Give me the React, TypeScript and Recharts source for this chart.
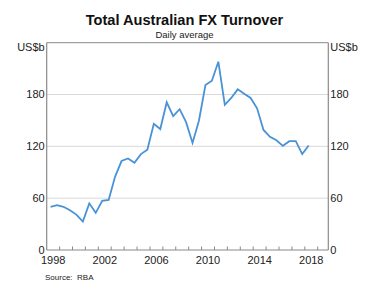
import React from 'react';
import { LineChart, Line, XAxis, YAxis, CartesianGrid } from 'recharts';

const firstPeriod = 1998.3;
const turnover = [
  50, 52, 50, 46, 41, 33, 54, 43, 57, 58,
  85, 103, 106, 101, 111, 116, 146, 140, 171, 155,
  163, 148, 124, 150, 191, 196, 218, 168, 176, 186,
  181, 176, 164, 139, 131, 127, 120.6, 126, 126, 111,
  121,
];
const yearTicks = [1999, 2000, 2001, 2002, 2003, 2004, 2005, 2006, 2007, 2008, 2009, 2010, 2011, 2012, 2013, 2014, 2015, 2016, 2017, 2018, 2019];
const yearLabels = [1998.5, 2002.5, 2006.5, 2010.5, 2014.5, 2018.5];
const valueTicks = [0, 60, 120, 180, 240];
const unitLabel = 'US$b';

const data = turnover.map((v, i) => ({ t: firstPeriod + i * 0.5, v }));
const xTicks = [...yearTicks, ...yearLabels].sort((a, b) => a - b);

const FONT = 'Arial, "Liberation Sans", sans-serif';
const FRAME = '#8a8a8a';

const YTick = (props: any) => {
  const { x, y, payload, textAnchor } = props;
  const isTop = payload.value === 240;
  return (
    <text x={x} y={y + (isTop ? 4 : 0)} dy="0.355em" textAnchor={textAnchor} fontSize={11} fontFamily={FONT} fill="#222">
      {isTop ? unitLabel : payload.value}
    </text>
  );
};

const XTick = (props: any) => {
  const { x, y, payload } = props;
  const v = payload.value as number;
  if (Number.isInteger(v)) {
    return <line x1={x} x2={x} y1={y} y2={y - 3.5} stroke={FRAME} strokeWidth={1} />;
  }
  return (
    <text x={x} y={y + 6} dy="0.71em" textAnchor="middle" fontSize={11} fontFamily={FONT} fill="#222">
      {Math.floor(v)}
    </text>
  );
};

export default function App() {
  return (
    <div style={{ position: 'absolute', left: 0, top: 0, width: 369, height: 296, background: '#fff', fontFamily: FONT }}>
      <div style={{ position: 'absolute', left: 0, width: 369, top: 11, textAlign: 'center', fontSize: 14.6, fontWeight: 'bold', color: '#111', lineHeight: '18px' }}>
        Total Australian FX Turnover
      </div>
      <div style={{ position: 'absolute', left: 0, width: 369, top: 29, textAlign: 'center', fontSize: 9.5, color: '#222', lineHeight: '12px' }}>
        Daily average
      </div>
      <div style={{ position: 'absolute', left: 45, top: 273, fontSize: 8, color: '#222', lineHeight: '10px', whiteSpace: 'pre' }}>
        {'Source:  RBA'}
      </div>
      <LineChart width={369} height={296} data={data} margin={{ top: 42.7, right: 0, bottom: 26, left: 0 }} style={{ position: 'absolute', left: 0, top: 0 }}>
        <CartesianGrid horizontal vertical={false} stroke="#d9d9d9" strokeWidth={1} horizontalValues={[60, 120, 180]} yAxisId="left" />
        <CartesianGrid horizontal vertical={false} stroke={FRAME} strokeWidth={1} horizontalValues={[240]} yAxisId="left" />
        <XAxis type="number" dataKey="t" domain={[1998, 2019.82]} ticks={xTicks} tickLine={false} tickSize={0} tickMargin={0} height={20} tick={<XTick />} stroke={FRAME} axisLine={{ stroke: FRAME, strokeWidth: 1.2 }} allowDataOverflow interval={0} />
        <YAxis yAxisId="left" orientation="left" domain={[0, 240]} ticks={valueTicks} width={46.7} tickLine={false} tickSize={0} tickMargin={2} stroke={FRAME} axisLine={{ stroke: FRAME, strokeWidth: 1.2 }} tick={<YTick />} interval={0} />
        <YAxis yAxisId="right" orientation="right" domain={[0, 240]} ticks={valueTicks} width={40.7} tickLine={false} tickSize={0} tickMargin={2} stroke={FRAME} axisLine={{ stroke: FRAME, strokeWidth: 1.2 }} tick={<YTick />} interval={0} />
        <Line yAxisId="right" type="linear" dataKey="v" stroke="none" strokeWidth={0} dot={false} activeDot={false} isAnimationActive={false} legendType="none" />
        <Line yAxisId="left" type="linear" dataKey="v" stroke="#4a92d6" strokeWidth={1.8} dot={false} isAnimationActive={false} />
      </LineChart>
    </div>
  );
}
